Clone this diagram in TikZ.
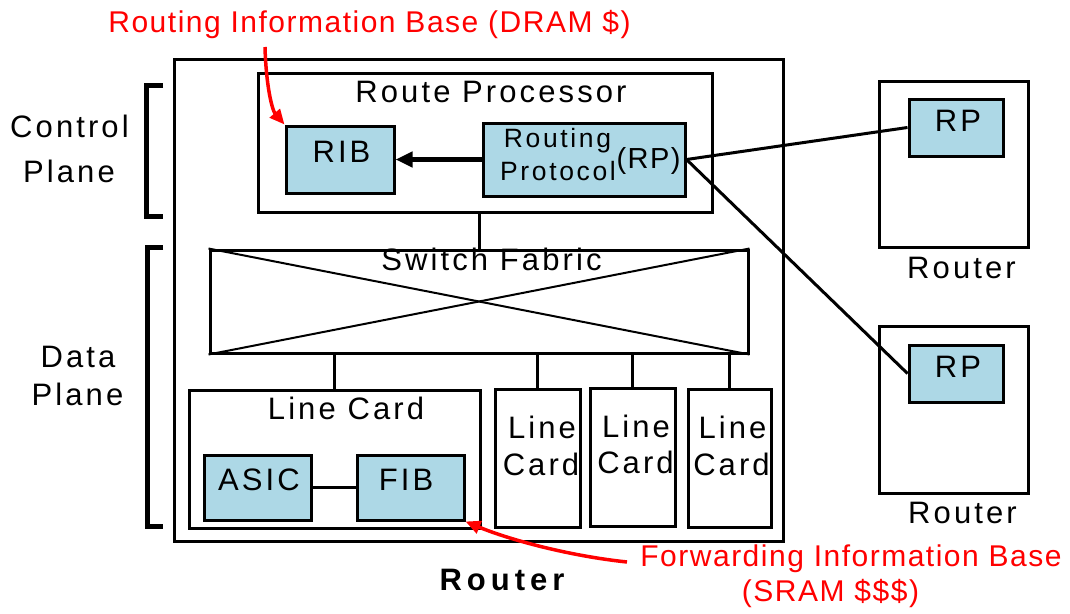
\documentclass[tikz,border=0pt]{standalone}
\usepackage{fontspec}
\usetikzlibrary{arrows.meta}
\newfontfamily\lblfont{Liberation Sans}[LetterSpace=10]
\newfontfamily\notefont{Liberation Sans}[LetterSpace=5]
\newfontfamily\titlefont{Liberation Sans}[LetterSpace=16]
\definecolor{cardblue}{HTML}{ADD8E6}
\definecolor{notered}{RGB}{255,0,0}
\tikzset{
  box/.style={draw=black, line width=3pt, fill=white, inner sep=0pt},
  bluebox/.style={box, fill=cardblue},
  lbl/.style={font=\lblfont\fontsize{31}{34}\selectfont, inner sep=0pt, anchor=base},
  smalllbl/.style={font=\lblfont\fontsize{26.5}{30}\selectfont, inner sep=0pt, anchor=base},
  tightlbl/.style={font=\notefont\fontsize{29}{32}\selectfont, inner sep=0pt, anchor=base},
  note/.style={font=\notefont\fontsize{30}{34}\selectfont, text=notered, inner sep=0pt, anchor=base},
  wire/.style={draw=black, line width=3pt},
  notearrow/.style={draw=notered, line width=3.5pt, -{Triangle[length=15pt,width=13pt]}},
  bracketline/.style={draw=black, line width=5pt, line join=miter}
}
\begin{document}
\begin{tikzpicture}[x=1pt,y=-1pt]
\useasboundingbox (0,0) rectangle (1070,613);

% main router chassis
\node[box, minimum width=609pt, minimum height=482pt] (router) at (478.5,300) {};

% control plane: route processor
\node[box, minimum width=454pt, minimum height=139pt] (rproc) at (485,142.5) {};
\node[lbl] (rproctxt) at (491,102) {Route Processor};
\node[bluebox, minimum width=108pt, minimum height=67pt] (rib) at (340,159.5) {};
\node[lbl] (ribtxt) at (341.5,162) {RIB};
\node[bluebox, minimum width=202pt, minimum height=73pt] (proto) at (584,159.5) {};
\node[smalllbl] (prototxta) at (557.5,147) {Routing};
\node[smalllbl] (prototxtb) at (558,180) {Protocol};
\node[tightlbl] (prototxtc) at (648.5,168) {(RP)};

% switch fabric
\node[box, minimum width=538pt, minimum height=103pt] (fabric) at (479,301.5) {};
\draw[line width=2pt] (fabric.north west) -- (fabric.south east);
\draw[line width=2pt] (fabric.south west) -- (fabric.north east);
\node[lbl] (fabrictxt) at (491.5,270) {Switch Fabric};

% line cards
\node[box, minimum width=291pt, minimum height=138pt] (lc0) at (334.5,459) {};
\node[lbl] (lc0txt) at (346,419) {Line Card};
\node[bluebox, minimum width=107pt, minimum height=65pt] (asic) at (257.5,487.5) {};
\node[lbl] (asictxt) at (259,490) {ASIC};
\node[bluebox, minimum width=107pt, minimum height=65pt] (fib) at (410.5,487.5) {};
\node[lbl] (fibtxt) at (406,490) {FIB};

\node[box, minimum width=85pt, minimum height=138pt] (lc1) at (537.5,458) {};
\node[lbl] (lc1a) at (542,438) {Line};
\node[lbl] (lc1b) at (541,475) {Card};
\node[box, minimum width=85pt, minimum height=138pt] (lc2) at (632.5,457) {};
\node[lbl] (lc2a) at (636,437) {Line};
\node[lbl] (lc2b) at (635.5,473) {Card};
\node[box, minimum width=83pt, minimum height=138pt] (lc3) at (729.5,458) {};
\node[lbl] (lc3a) at (732.5,438) {Line};
\node[lbl] (lc3b) at (731.5,475) {Card};

% neighbouring routers
\node[box, minimum width=149pt, minimum height=166pt] (r1) at (953.5,164) {};
\node[bluebox, minimum width=94pt, minimum height=57pt] (rp1) at (956,127.5) {};
\node[lbl] (rp1txt) at (958,131) {RP};
\node[lbl] (r1txt) at (961.5,278) {Router};
\node[box, minimum width=149pt, minimum height=167pt] (r2) at (953.5,409.5) {};
\node[bluebox, minimum width=94pt, minimum height=57pt] (rp2) at (956,373.5) {};
\node[lbl] (rp2txt) at (958,377) {RP};
\node[lbl] (r2txt) at (962.5,523) {Router};

% internal connectors
\draw[line width=5pt, -{Triangle[length=17pt,width=15pt]}] (proto.west) -- (rib.east);
\draw[wire] (fabric.north) -- (fabric.north |- rproc.south);
\foreach \c in {lc0,lc1,lc2,lc3} {
  \draw[wire] (\c.north) -- (\c.north |- fabric.south);
}
\draw[wire] (asic.east) -- (fib.west);

% peering sessions
\draw[wire] (proto.east) -- (rp1.west);
\draw[wire] (proto.east) -- (rp2.west);

% plane brackets and labels
\draw[bracketline] (163,85) -- (146,85) -- (146,216) -- (163,216);
\draw[bracketline] (163,247) -- (147,247) -- (147,526) -- (163,526);
\node[lbl] (cpa) at (69.5,137) {Control};
\node[lbl] (cpb) at (69,182) {Plane};
\node[lbl] (dpa) at (78,367) {Data};
\node[lbl] (dpb) at (77.5,405) {Plane};

\node[font=\titlefont\bfseries\fontsize{31}{34}\selectfont, inner sep=0pt, anchor=base] (title) at (502,590) {Router};

% annotations
\node[note] (ribnote) at (369.5,32) {Routing Information Base (DRAM \$)};
\node[note] (fibnotea) at (851,566) {Forwarding Information Base};
\node[note] (fibnoteb) at (830.5,601) {(SRAM \$\$\$)};
\coordinate (ribnoteend) at (265,47);
\coordinate (fibnoteend) at (627,562);
\draw[notearrow] (ribnoteend) .. controls (266,85) and (272,110) .. (rib.north west);
\draw[notearrow] (fibnoteend) .. controls (570,556) and (510,540) .. (fib.south east);
\end{tikzpicture}
\end{document}
